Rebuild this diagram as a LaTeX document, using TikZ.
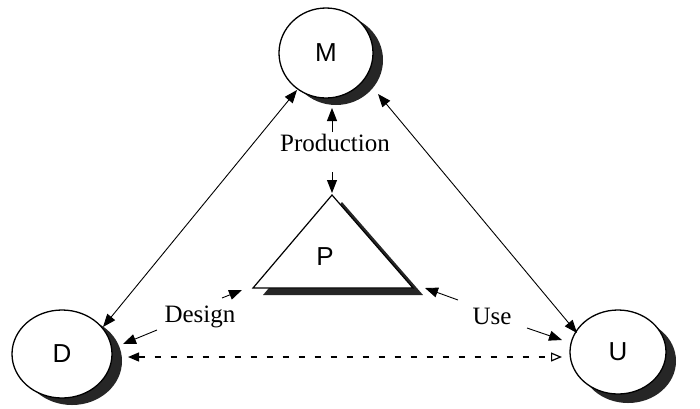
\documentclass[tikz,border=0pt]{standalone}
\usepackage{fontspec}
\setmainfont{Liberation Serif}
\newfontfamily\hv{Liberation Sans}
\usetikzlibrary{arrows.meta,calc,backgrounds,shapes.geometric}
\begin{document}
\begin{tikzpicture}[x=1pt,y=-1pt,
  shadowc/.style={fill=black!85},
  circ/.style={ellipse,draw=black,fill=white,line width=1.3pt,inner sep=0pt,
    font=\hv\fontsize{26}{26}\selectfont},
  lbl/.style={font=\fontsize{25}{25}\selectfont,inner sep=1pt},
  arr/.style={line width=0.9pt,-{Triangle[length=13pt,width=10pt]}},
  dbl/.style={line width=0.9pt,{Triangle[length=13pt,width=10pt]}-{Triangle[length=13pt,width=10pt]}},
  dsh/.style={line width=1.2pt,dash pattern=on 6pt off 10pt,
    {Triangle[length=11pt,width=9pt]}-{Triangle[open,length=11pt,width=9pt,fill=white]}}
]
\useasboundingbox (0,0) rectangle (700,408);

% circles
\node[circ,minimum width=94pt,minimum height=90pt] (M) at (326,53) {M};
\node[circ,minimum width=100pt,minimum height=88pt] (D) at (62,354) {D};
\node[circ,minimum width=96pt,minimum height=84pt] (U) at (618,352) {U};

\begin{scope}[on background layer]
  \fill[shadowc] ($(M.center)+(10,7)$) ellipse [x radius=47pt,y radius=45pt];
  \fill[shadowc] ($(D.center)+(10,7)$) ellipse [x radius=50pt,y radius=44pt];
  \fill[shadowc] ($(U.center)+(10,9)$) ellipse [x radius=48pt,y radius=42pt];
\end{scope}

% triangle P
\coordinate (Pa) at (332,195);
\coordinate (Pbl) at (253,288);
\coordinate (Pbr) at (413,288);
\fill[shadowc] ($(Pa)+(10,7)$) -- ($(Pbl)+(10,7)$) -- ($(Pbr)+(10,7)$) -- cycle;
\filldraw[fill=white,line width=1.2pt,line join=miter] (Pa) -- (Pbl) -- (Pbr) -- cycle;
\node[font=\hv\fontsize{26}{26}\selectfont] (P) at (325,257) {P};

% labels
\node[lbl,anchor=base] (prod) at (335,151) {Production};
\node[lbl,anchor=base] (design) at (200,322) {Design};
\node[lbl,anchor=base] (use) at (492,324) {Use};

% connectors
\draw[dbl] ($(M)+(-29,37)$) -- ($(D)+(41,-27)$);
\draw[dbl] ($(M)+(52,41)$) -- ($(U)+(-41,-19)$);
\draw[arr] ($(Pa)+(0,-63)$) -- ($(M)+(6,55)$);
\draw[arr] ($(Pa)+(0,-23)$) -- ($(Pa)+(0,-2)$);
\draw[arr] ($(design.base)+(-43,8)$) -- ($(D)+(61,-10)$);
\draw[arr] ($(Pbl)+(-31,10)$) -- ($(Pbl)+(-11,2)$);
\draw[arr] ($(Pbr)+(45,12)$) -- ($(Pbr)+(12,0)$);
\draw[arr] ($(U)+(-91,-24)$) -- ($(U)+(-56,-12)$);
\draw[dsh] ($(D)+(66,3)$) -- ($(U)+(-56,5)$);
\end{tikzpicture}
\end{document}
